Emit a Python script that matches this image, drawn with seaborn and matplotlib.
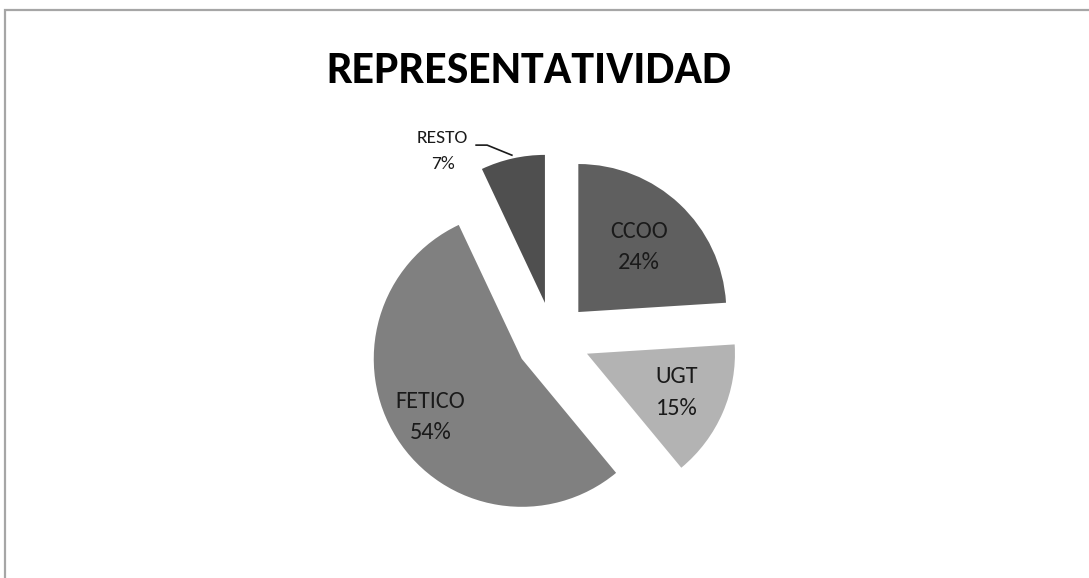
import numpy as np
import matplotlib
matplotlib.use("Agg")
import matplotlib.pyplot as plt
import seaborn as sns
from matplotlib.patches import Rectangle

sns.set_theme(style="white")
LABEL_FONT = ['Carlito', 'Lato', 'DejaVu Sans']
plt.rcParams['font.family'] = LABEL_FONT

# ---- data ----
categories = ["CCOO", "UGT", "FETICO", "RESTO"]
percentages = [24, 15, 54, 7]
colors = ["#5f5f5f", "#b3b3b3", "#808080", "#4f4f4f"]
title = "REPRESENTATIVIDAD"

# ---- layout ----
W, H = 1089, 578
R_PX = 148.0
CX, CY = 553.0, 339.0  # pie centre in pixels (from top-left)

fig = plt.figure(figsize=(W / 100, H / 100), dpi=100)
ax = fig.add_axes([0, 0, 1, 1])

wedges, _ = ax.pie(percentages, colors=colors, startangle=90, counterclock=False,
                   explode=[0.25] * len(percentages), radius=1.0,
                   wedgeprops=dict(linewidth=0))

ax.set_xlim(-CX / R_PX, (W - CX) / R_PX)
ax.set_ylim(-(H - CY) / R_PX, CY / R_PX)
ax.set_aspect('auto')
ax.axis('off')

label_r = [0.60, 0.66, 0.73]
for w, cat, pct, r in zip(wedges[:3], categories[:3], percentages[:3], label_r):
    mid = np.deg2rad((w.theta1 + w.theta2) / 2)
    cx, cy = w.center
    ax.text(cx + r * np.cos(mid), cy + r * np.sin(mid), f"{cat}\n{pct}%",
            ha='center', va='center', fontsize=17.5, color='#1a1a1a',
            linespacing=1.6)

# RESTO label outside with leader line
w = wedges[3]
mid = np.deg2rad((w.theta1 + w.theta2) / 2)
cx, cy = w.center
end = (cx + np.cos(mid), cy + np.sin(mid))
tx, ty = -0.745, 1.27
ax.text(tx, ty, f"{categories[3]}\n{percentages[3]}%", ha='center', va='center',
        fontsize=14, color='#1a1a1a', linespacing=1.8)
ax.plot([tx + 0.22, tx + 0.30, end[0]], [ty + 0.04, ty + 0.04, end[1] + 0.02],
        color='#1a1a1a', lw=1.2, solid_capstyle='butt')

fig.text(529 / W, 1 - 70 / H, title, ha='center', va='center',
         fontsize=33, fontweight='bold', family=LABEL_FONT, color='black')

# outer border (chart area frame)
fig.patches.append(Rectangle((5 / W, -0.1), 1.2, 1 - 10 / H + 0.1,
                             transform=fig.transFigure, fill=False,
                             edgecolor='#a6a6a6', lw=1.6))

fig.savefig("out.png", dpi=100, facecolor='white')
